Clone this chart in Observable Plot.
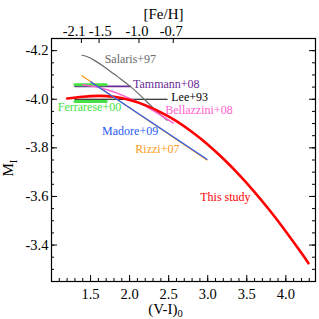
<!DOCTYPE html>
<html><head><meta charset="utf-8">
<script src="https://cdn.jsdelivr.net/npm/d3@7"></script>
<script src="https://cdn.jsdelivr.net/npm/@observablehq/plot@0.6"></script>
<style>body{margin:0;background:#fff}svg{display:block}svg text{font-family:"Liberation Serif","Times New Roman",serif}</style>
</head><body><div id="chart"></div>
<script>
// ---- data ----
const thisStudyVI = [1.20, 1.40, 1.60, 1.80, 2.00, 2.20, 2.40, 2.60, 2.80, 3.00, 3.20, 3.40, 3.60, 3.80, 4.00, 4.20, 4.29];
const thisStudyMI = [-4.003, -4.010, -4.014, -4.010, -3.997, -3.976, -3.946, -3.910, -3.865, -3.814, -3.755, -3.690, -3.618, -3.540, -3.456, -3.367, -3.325];

const salarisVI = [1.39, 1.45, 1.55, 1.70, 1.85, 2.00, 2.15, 2.30, 2.48];
const salarisMI = [-4.181, -4.176, -4.160, -4.128, -4.092, -4.055, -4.012, -3.965, -3.913];

const bellazziniVI = [1.40, 1.54, 1.70, 1.88, 2.05, 2.20, 2.35, 2.48, 2.56];
const bellazziniMI = [-4.060, -4.053, -4.040, -4.020, -3.996, -3.972, -3.944, -3.918, -3.902];

const rizziVI = [1.39, 2.99];
const rizziMI = [-4.097, -3.750];

const madoreVI = [1.50, 2.99];
const madoreMI = [-4.072, -3.753];

const tammannVI = [1.30, 2.01];
const tammannMI = [-4.053, -4.053];

const leeVI = [1.30, 2.48];
const leeMI = [-4.000, -4.000];

const ferrareseVI = [1.30, 1.70];
const ferrareseUpperMI = [-4.060, -4.060];
const ferrareseLowerMI = [-3.991, -3.991];

const xTicks = [1.5, 2.0, 2.5, 3.0, 3.5, 4.0];
const yTicks = [-4.2, -4.0, -3.8, -3.6, -3.4];
const fehLabels = ["-2.1", "-1.5", "-1.0", "-0.7"];
const fehVI = [1.383, 1.609, 2.12, 2.559];          // tick positions on the colour scale
const fehLabelVI = [1.290, 1.623, 2.095, 2.533];    // where the label texts are centred

const seriesNames = ["Salaris+97", "Tammann+08", "Lee+93", "Bellazzini+08", "Ferrarese+00", "Madore+09", "Rizzi+07", "This study"];

// ---- layout / styles ----
const W = 319, H = 319, mL = 51, mR = 4, mT = 38, mB = 38;
const fw = W - mL - mR, fh = H - mT - mB;
const font = "Liberation Serif";
const colors = {
  "Salaris+97": "#6a6a6a", "Tammann+08": "#6a2a96", "Lee+93": "#000000",
  "Bellazzini+08": "#ff5fd0", "Ferrarese+00": "#44e044", "Madore+09": "#2a5cf0",
  "Rizzi+07": "#ff9a1a", "This study": "#ff0000"
};
const labelPos = {
  "Salaris+97": [1.681, -4.166], "Tammann+08": [2.044, -4.062], "Lee+93": [2.533, -4.009],
  "Bellazzini+08": [2.456, -3.955], "Ferrarese+00": [1.080, -3.966], "Madore+09": [1.648, -3.867],
  "Rizzi+07": [2.073, -3.795], "This study": [2.904, -3.597]
};
const rows = (xs, ys) => xs.map((x, i) => ({x, y: ys[i]}));
const labels = seriesNames.map(n => ({name: n, x: labelPos[n][0], y: labelPos[n][1]}));
const fehRows = fehLabels.map((t, i) => ({t, x: fehLabelVI[i]}));
const xMinor = d3.range(11, 44).map(v => v / 10);
const yMinor = d3.range(-85, -64).map(v => v / 20);
const fmt = d => d.toFixed(1);

const chart = Plot.plot({
  width: W, height: H,
  marginLeft: mL, marginRight: mR, marginTop: mT, marginBottom: mB,
  x: {domain: [1.0, 4.38], axis: null},
  y: {domain: [-4.25, -3.25], reverse: true, axis: null},
  style: {fontFamily: "'Liberation Serif', serif", background: "white", color: "black"},
  marks: [
    // ticks (inward)
    Plot.tickX(xMinor, {x: d => d, insetTop: fh - 3, stroke: "black"}),
    Plot.tickX(xTicks, {x: d => d, insetTop: fh - 6, stroke: "black"}),
    Plot.tickX(fehVI, {x: d => d, insetBottom: fh - 5, stroke: "black"}),
    Plot.tickY(yMinor, {y: d => d, insetRight: fw - 3, stroke: "black"}),
    Plot.tickY(yTicks, {y: d => d, insetRight: fw - 6, stroke: "black"}),
    Plot.tickY(yMinor, {y: d => d, insetLeft: fw - 3, stroke: "black"}),
    Plot.tickY(yTicks, {y: d => d, insetLeft: fw - 6, stroke: "black"}),
    // tick labels
    Plot.text(xTicks, {x: d => d, text: fmt, frameAnchor: "bottom", lineAnchor: "top", dy: 7, fontSize: 14.5, fontFamily: font}),
    Plot.text(yTicks, {y: d => d, text: fmt, frameAnchor: "left", textAnchor: "end", dx: -3, fontSize: 14.5, fontFamily: font}),
    Plot.text(fehRows, {x: "x", text: "t", frameAnchor: "top", lineAnchor: "bottom", dy: -3, fontSize: 14.5, fontFamily: font}),
    // relations
    Plot.line(rows(leeVI, leeMI), {x: "x", y: "y", stroke: colors["Lee+93"], strokeWidth: 1.2}),
    Plot.line(rows(tammannVI, tammannMI), {x: "x", y: "y", stroke: colors["Tammann+08"], strokeWidth: 1.6}),
    Plot.line(rows(ferrareseVI, ferrareseUpperMI), {x: "x", y: "y", stroke: colors["Ferrarese+00"], strokeWidth: 3}),
    Plot.line(rows(ferrareseVI, ferrareseLowerMI), {x: "x", y: "y", stroke: colors["Ferrarese+00"], strokeWidth: 3}),
    Plot.line(rows(salarisVI, salarisMI), {x: "x", y: "y", stroke: colors["Salaris+97"], strokeWidth: 1.2, curve: "natural"}),
    Plot.line(rows(bellazziniVI, bellazziniMI), {x: "x", y: "y", stroke: colors["Bellazzini+08"], strokeWidth: 1.5, curve: "natural"}),
    Plot.line(rows(thisStudyVI, thisStudyMI), {x: "x", y: "y", stroke: colors["This study"], strokeWidth: 2.6, curve: "natural"}),
    Plot.line(rows(rizziVI, rizziMI), {x: "x", y: "y", stroke: colors["Rizzi+07"], strokeWidth: 1.3}),
    Plot.line(rows(madoreVI, madoreMI), {x: "x", y: "y", stroke: colors["Madore+09"], strokeWidth: 1.3}),
    // series labels
    Plot.text(labels, {x: "x", y: "y", text: "name", fill: d => colors[d.name], textAnchor: "start", fontSize: 12, fontFamily: font}),
    Plot.frame({stroke: "black", strokeWidth: 1.2})
  ]
});

// axis titles with subscripts
const svg = d3.select(chart);
svg.append("text").attr("x", 163.5).attr("y", 19).attr("text-anchor", "middle")
  .attr("font-family", font).attr("font-size", 15).attr("fill", "black").text("[Fe/H]");
const xl = svg.append("text").attr("x", 165.5).attr("y", 314)
  .attr("font-family", font).attr("font-size", 15).attr("fill", "black");
xl.append("tspan").text("(V-I)");
xl.append("tspan").attr("dy", 3).attr("font-size", 10.5).text("0");
const yl = svg.append("text").attr("transform", "translate(13,168) rotate(-90)")
  .attr("font-family", font).attr("font-size", 15).attr("fill", "black");
yl.append("tspan").text("M");
yl.append("tspan").attr("dy", 4).attr("font-size", 11).text("I");

document.getElementById("chart").appendChild(chart);
</script>
</body></html>
